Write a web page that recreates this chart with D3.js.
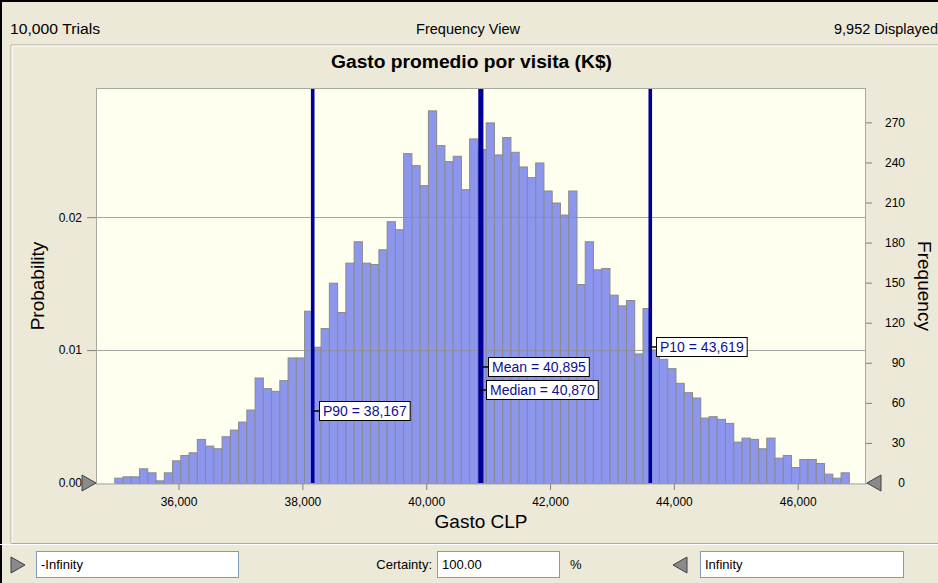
<!DOCTYPE html>
<html>
<head>
<meta charset="utf-8">
<script src="https://cdn.jsdelivr.net/npm/d3@7"></script>
<style>
  body { margin: 0; background: #ece9d8; }
  svg { display: block; font-family: "Liberation Sans", Arial, sans-serif; }
</style>
</head>
<body>
<div class="chart"></div>
<script>
// Data
const counts = [4, 5, 5, 11, 8, 2, 8, 17, 21, 23,
  33, 28, 26, 35, 40, 46, 55, 79, 71, 69,
  77, 94, 94, 129, 102, 116, 150, 128, 165, 181,
  165, 164, 175, 196, 190, 247, 238, 223, 279, 253,
  241, 245, 220, 258, 250, 270, 246, 259, 248, 237,
  229, 240, 219, 210, 201, 219, 149, 181, 160, 161,
  141, 133, 137, 97, 131, 100, 93, 86, 75, 68,
  64, 49, 50, 48, 45, 31, 34, 33, 26, 34,
  19, 21, 12, 18, 18, 15, 7, 4, 8];
const binStart = 34962;
const binWidth = 133.3;
const displayed = 9952;
const trials = 10000;
const xTicks = [36000, 38000, 40000, 42000, 44000, 46000];
const freqTicks = [0, 30, 60, 90, 120, 150, 180, 210, 240, 270];
const probTicks = [0, 0.01, 0.02];
const markerNames = ["P90", "Mean", "Median", "P10"];
const markerValues = [38167, 40895, 40870, 43619];

const W = 938, H = 583;
const plot = {left: 97, right: 865, top: 89, bottom: 483};

const svg = d3.select(".chart").append("svg")
  .attr("width", W)
  .attr("height", H);

svg.append("rect").attr("width", W).attr("height", H).attr("fill", "#ece9d8");

// window edges
svg.append("path").attr("d", `M1,${H} V1 H${W}`).attr("stroke", "#000").attr("stroke-width", 2).attr("fill", "none");

// header
const fmt = d3.format(",");
const header = svg.append("g").attr("font-size", 14).attr("fill", "#000");
header.append("text").attr("x", 10).attr("y", 34)
  .attr("textLength", 90).attr("lengthAdjust", "spacingAndGlyphs")
  .text(`${fmt(trials)} Trials`);
header.append("text").attr("x", 468).attr("y", 34).attr("text-anchor", "middle")
  .attr("textLength", 104).attr("lengthAdjust", "spacingAndGlyphs")
  .text("Frequency View");
header.append("text").attr("x", 834).attr("y", 34)
  .attr("textLength", 104).attr("lengthAdjust", "spacingAndGlyphs")
  .text(`${fmt(displayed)} Displayed`);

// inner panel
svg.append("path").attr("d", `M11,543 V45 H${W}`).attr("stroke", "#aca899").attr("fill", "none");
svg.append("path").attr("d", `M12,543 V46 H${W}`).attr("stroke", "#fff").attr("fill", "none");
svg.append("line").attr("x1", 11).attr("x2", W).attr("y1", 543.5).attr("y2", 543.5).attr("stroke", "#aca899");
svg.append("line").attr("x1", 0).attr("x2", W).attr("y1", 544.5).attr("y2", 544.5).attr("stroke", "#fff");

svg.append("text")
  .attr("x", 331).attr("y", 68)
  .attr("font-size", 18).attr("font-weight", "bold")
  .attr("textLength", 281).attr("lengthAdjust", "spacingAndGlyphs")
  .text("Gasto promedio por visita (K$)");

// scales
const x = d3.scaleLinear().domain([34683, 47087]).range([plot.left, plot.right]);
const yFreq = d3.scaleLinear().domain([0, 295]).range([plot.bottom, plot.top]);
const yProb = d3.scaleLinear().domain([0, 295 / displayed]).range([plot.bottom, plot.top]);

svg.append("rect")
  .attr("x", plot.left).attr("y", plot.top)
  .attr("width", plot.right - plot.left).attr("height", plot.bottom - plot.top)
  .attr("fill", "#fffff0");

// bars
const bins = counts.map((c, i) => ({x0: binStart + i * binWidth, x1: binStart + (i + 1) * binWidth, n: c}));
svg.append("g").selectAll("rect").data(bins).join("rect")
  .attr("x", d => x(d.x0) + 0.5)
  .attr("y", d => yFreq(d.n) + 0.5)
  .attr("width", d => x(d.x1) - x(d.x0))
  .attr("height", d => plot.bottom - yFreq(d.n))
  .attr("fill", "#8c96ec")
  .attr("stroke", "#8a8a8a");

// grid lines at probability ticks
svg.append("g").selectAll("line").data(probTicks.filter(d => d > 0)).join("line")
  .attr("x1", plot.left).attr("x2", plot.right)
  .attr("y1", d => Math.round(yProb(d)) + 0.5).attr("y2", d => Math.round(yProb(d)) + 0.5)
  .attr("stroke", "#8f8f8f").attr("stroke-opacity", 0.8);

// plot frame
svg.append("rect")
  .attr("x", plot.left - 0.5).attr("y", plot.top - 0.5)
  .attr("width", plot.right - plot.left + 1).attr("height", plot.bottom - plot.top + 1.5)
  .attr("fill", "none").attr("stroke", "#a8a8a0");

// axes
const axisColor = "#808080";
const gx = svg.append("g").attr("transform", `translate(0,${plot.bottom + 1})`)
  .call(d3.axisBottom(x).tickValues(xTicks).tickSize(6).tickPadding(7).tickFormat(fmt));
const gl = svg.append("g").attr("transform", `translate(${plot.left - 1},0)`)
  .call(d3.axisLeft(yProb).tickValues(probTicks).tickSize(9).tickPadding(5).tickFormat(d3.format(".2f")));
const gr = svg.append("g").attr("transform", `translate(${plot.right + 1},0)`)
  .call(d3.axisRight(yFreq).tickValues(freqTicks).tickSize(6).tickPadding(6));
[gx, gl, gr].forEach(g => {
  g.select(".domain").remove();
  g.selectAll(".tick line").attr("stroke", axisColor);
  g.selectAll(".tick text").attr("font-size", 12).attr("fill", "#000")
    .attr("font-family", "Liberation Sans, Arial, sans-serif");
});
gr.selectAll(".tick text").attr("text-anchor", "end").attr("x", 39);

// axis titles
svg.append("text")
  .attr("transform", `translate(44,286) rotate(-90)`)
  .attr("text-anchor", "middle").attr("font-size", 19)
  .text("Probability");
svg.append("text")
  .attr("transform", `translate(918,286) rotate(90)`)
  .attr("text-anchor", "middle").attr("font-size", 19)
  .text("Frequency");
svg.append("text")
  .attr("x", 481).attr("y", 528)
  .attr("text-anchor", "middle").attr("font-size", 19)
  .text("Gasto CLP");

// grabbers
function tri(g, cx, cy, dir) {
  const s = dir;
  g.append("path")
    .attr("d", `M${cx - 7 * s},${cy - 8} L${cx + 7 * s},${cy} L${cx - 7 * s},${cy + 8} Z`)
    .attr("fill", "#8a8a8a").attr("stroke", "#404040").attr("stroke-width", 1);
}
tri(svg, 89, plot.bottom, 1);
tri(svg, 874, plot.bottom, -1);

// statistic lines
const markers = markerNames.map((n, i) => ({name: n, value: markerValues[i]}));
const labelY = {P10: 347, Mean: 367, Median: 390, P90: 411};
svg.append("g").selectAll("line").data(markers).join("line")
  .attr("x1", d => x(d.value)).attr("x2", d => x(d.value))
  .attr("y1", plot.top).attr("y2", plot.bottom)
  .attr("stroke", "#000099").attr("stroke-width", 3.6);

const lab = svg.append("g").selectAll("g").data(markers).join("g")
  .attr("transform", d => `translate(${Math.round(x(d.value))},${labelY[d.name]})`);
lab.append("line").attr("x1", 0).attr("x2", 7).attr("stroke", "#000").attr("stroke-width", 1.5);
lab.append("text")
  .attr("x", 10).attr("y", 5)
  .attr("font-size", 14).attr("fill", "#10108f")
  .text(d => `${d.name} = ${fmt(d.value)}`);
lab.insert("rect", "text")
  .attr("x", 6.5).attr("y", -9.5)
  .attr("height", 19)
  .attr("width", function(d) { return this.parentNode.querySelector("text").getComputedTextLength() + 7; })
  .attr("fill", "#fff").attr("stroke", "#000");

// bottom controls
const bottom = svg.append("g").attr("font-size", 13);
tri(bottom, 18, 565, 1);
bottom.append("rect").attr("x", 36.5).attr("y", 551.5).attr("width", 202).attr("height", 26)
  .attr("fill", "#fff").attr("stroke", "#7f9db9");
bottom.append("text").attr("x", 41).attr("y", 569).text("-Infinity");
bottom.append("text").attr("x", 432).attr("y", 569).attr("text-anchor", "end").text("Certainty:");
bottom.append("rect").attr("x", 437.5).attr("y", 551.5).attr("width", 122).attr("height", 26)
  .attr("fill", "#fff").attr("stroke", "#7f9db9");
bottom.append("text").attr("x", 442).attr("y", 569).text("100.00");
bottom.append("text").attr("x", 570).attr("y", 569).text("%");
tri(bottom, 680, 565, -1);
bottom.append("rect").attr("x", 700.5).attr("y", 551.5).attr("width", 203).attr("height", 26)
  .attr("fill", "#fff").attr("stroke", "#7f9db9");
bottom.append("text").attr("x", 705).attr("y", 569).text("Infinity");
</script>
</body>
</html>
